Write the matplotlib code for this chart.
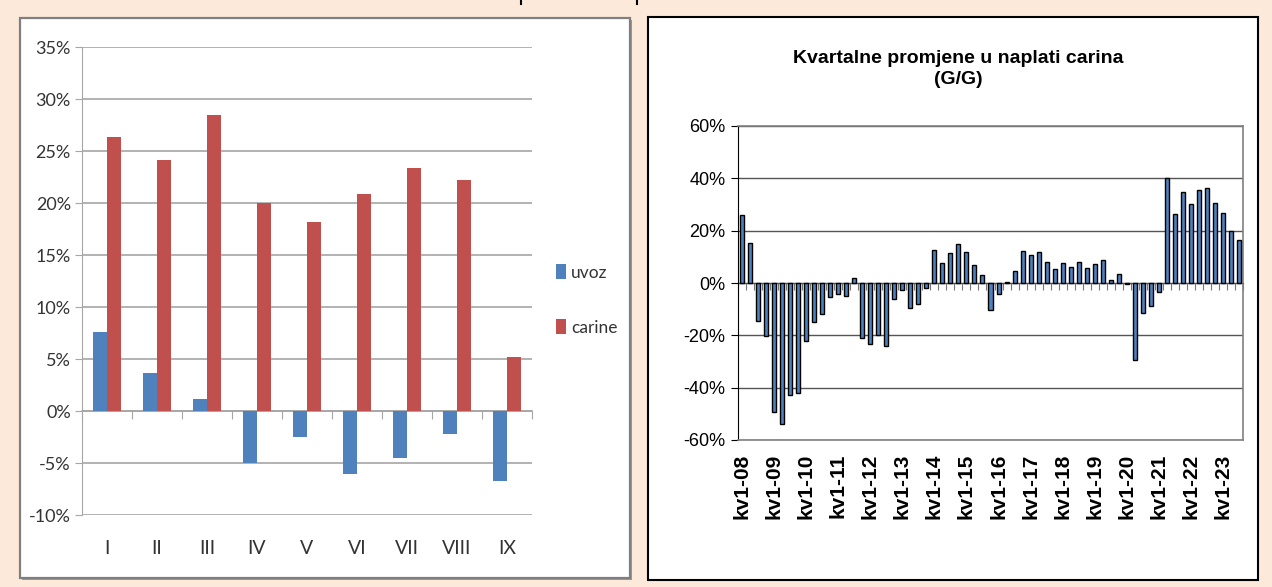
import numpy as np
import matplotlib
matplotlib.use("Agg")
import matplotlib.pyplot as plt
from matplotlib.patches import Rectangle
from matplotlib.lines import Line2D
from matplotlib.ticker import FuncFormatter, FixedLocator

# ---------------- data ----------------
months = ["I", "II", "III", "IV", "V", "VI", "VII", "VIII", "IX"]
uvoz = [7.6, 3.7, 1.2, -5.0, -2.5, -6.1, -4.5, -2.2, -6.7]
carine = [26.3, 24.1, 28.5, 20.0, 18.2, 20.9, 23.4, 22.2, 5.2]

quarterly_change = [
    25.9, 15.3, -14.4, -20.1,      # 2008
    -49.2, -53.9, -42.9, -41.9,    # 2009
    -22.3, -14.8, -11.8, -5.3,     # 2010
    -4.2, -5.1, 1.9, -21.0,        # 2011
    -23.2, -20.0, -24.2, -6.2,     # 2012
    -2.8, -9.7, -8.2, -1.9,        # 2013
    12.7, 7.6, 11.6, 14.8,         # 2014
    11.8, 6.8, 3.1, -10.2,         # 2015
    -4.1, 0.3, 4.7, 12.4,          # 2016
    10.6, 11.8, 8.2, 5.2,          # 2017
    7.6, 6.0, 8.2, 5.6,            # 2018
    7.1, 8.9, 1.3, 3.4,            # 2019
    -0.4, -29.6, -11.5, -8.9,      # 2020
    -3.3, 40.1, 26.4, 34.8,        # 2021
    30.3, 35.7, 36.4, 30.6,        # 2022
    26.8, 20.0, 16.6,              # 2023
]
year_labels = ["kv1-08", "kv1-09", "kv1-10", "kv1-11", "kv1-12", "kv1-13",
               "kv1-14", "kv1-15", "kv1-16", "kv1-17", "kv1-18", "kv1-19",
               "kv1-20", "kv1-21", "kv1-22", "kv1-23"]
title_right = "Kvartalne promjene u naplati carina\n(G/G)"

# ---------------- styling ----------------
W, H = 1272, 587
BG = "#FDE9D9"
BLUE = "#4F81BD"
RED = "#C0504D"
NARROW = ["Liberation Sans Narrow", "Lato", "DejaVu Sans"]
ARIAL = ["Liberation Sans", "DejaVu Sans"]

fig = plt.figure(figsize=(W / 100, H / 100), dpi=100, facecolor=BG)


def fx(px):
    return px / W


def fy(py):
    return 1 - py / H


def pct_fmt(v, pos):
    return f"{int(round(v))}%"


# panel boxes
fig.patches.append(Rectangle((fx(22), fy(580)), fx(610), (580 - 20) / H,
                             transform=fig.transFigure, facecolor="#9a9a9a",
                             edgecolor="none", zorder=-3))
fig.patches.append(Rectangle((fx(20), fy(578)), fx(610), (578 - 18) / H,
                             transform=fig.transFigure, facecolor="white",
                             edgecolor="#7f7f7f", linewidth=1.6, zorder=-2))
fig.patches.append(Rectangle((fx(648), fy(580)), fx(610), (580 - 17) / H,
                             transform=fig.transFigure, facecolor="white",
                             edgecolor="black", linewidth=1.5, zorder=-2))
# small cut-off marks at the top
for xp in (521, 637):
    fig.add_artist(Line2D([fx(xp), fx(xp)], [fy(0), fy(4)], color="black",
                          linewidth=1.5, transform=fig.transFigure))

# ---------------- left chart ----------------
axL = fig.add_axes([fx(82), fy(515), fx(450), (515 - 47) / H])
axL.set_facecolor("none")
xL = np.arange(len(months))
bw = 0.286
axL.bar(xL - bw / 2, uvoz, width=bw, color=BLUE, label="uvoz", zorder=3)
axL.bar(xL + bw / 2, carine, width=bw, color=RED, label="carine", zorder=3)
yminL, ymaxL = -10, 35
axL.set_ylim(yminL, ymaxL)
axL.set_xlim(-0.5, len(months) - 0.5)
axL.yaxis.set_major_locator(FixedLocator(np.arange(-10, 36, 5)))
axL.yaxis.set_major_formatter(FuncFormatter(pct_fmt))
axL.grid(axis="y", color="#a6a6a6", linewidth=1.2, zorder=0)
for s in ("top", "right", "bottom"):
    axL.spines[s].set_visible(False)
axL.spines["left"].set_color("#a6a6a6")
axL.tick_params(axis="y", length=5, color="#a6a6a6", labelsize=13, pad=3)
axL.set_xticks(xL)
axL.set_xticklabels(months)
axL.tick_params(axis="x", length=0, labelsize=14, pad=18)
for lab in axL.get_xticklabels() + axL.get_yticklabels():
    lab.set_family(NARROW)
    lab.set_color("#333333")
zeroL = (0 - yminL) / (ymaxL - yminL)
secL = axL.secondary_xaxis(zeroL)
secL.set_xticks(np.arange(-0.5, len(months), 1.0))
secL.tick_params(axis="x", direction="out", length=6, color="#a6a6a6",
                 labelbottom=False, labeltop=False, bottom=True, top=False)
secL.spines["bottom"].set_color("#a6a6a6")
secL.spines["bottom"].set_linewidth(1.2)
legL = axL.legend(loc="center left", bbox_to_anchor=(1.018, 0.46), frameon=False,
                  handlelength=0.6, handleheight=1.0, handletextpad=0.3,
                  labelspacing=2.2, prop={"family": NARROW, "size": 12.5})
for t in legL.get_texts():
    t.set_color("#333333")

# ---------------- right chart ----------------
axR = fig.add_axes([fx(738), fy(440), fx(505), (440 - 126) / H])
axR.set_facecolor("none")
xR = np.arange(len(quarterly_change))
axR.bar(xR, quarterly_change, width=0.5, color=BLUE, edgecolor="black",
        linewidth=1.0, zorder=3)
yminR, ymaxR = -60, 60
axR.set_ylim(yminR, ymaxR)
axR.set_xlim(-0.5, len(quarterly_change) - 0.5)
axR.yaxis.set_major_locator(FixedLocator(np.arange(-60, 61, 20)))
axR.yaxis.set_major_formatter(FuncFormatter(pct_fmt))
axR.grid(axis="y", color="#555555", linewidth=1.0, zorder=0)
for s in ("top", "right", "bottom"):
    axR.spines[s].set_color("#808080")
    axR.spines[s].set_linewidth(1.2)
axR.spines["left"].set_color("black")
axR.tick_params(axis="y", length=5, labelsize=13, pad=4)
axR.set_xticks(xR[::4])
axR.set_xticklabels(year_labels, rotation=90, fontweight="bold")
axR.tick_params(axis="x", length=0, labelsize=15, pad=10)
for lab in axR.get_xticklabels() + axR.get_yticklabels():
    lab.set_family(ARIAL)
zeroR = (0 - yminR) / (ymaxR - yminR)
secR = axR.secondary_xaxis(zeroR)
secR.set_xticks(np.arange(-0.5, len(quarterly_change), 1.0))
secR.tick_params(axis="x", direction="out", length=5, color="#777777",
                 labelbottom=False, labeltop=False, bottom=True, top=False)
secR.spines["bottom"].set_color("#333333")
fig.text(fx(958), fy(69), title_right, ha="center", va="center",
         fontsize=14, fontweight="bold", family=ARIAL, linespacing=1.25)

fig.savefig("out.png", dpi=100, facecolor=BG)
